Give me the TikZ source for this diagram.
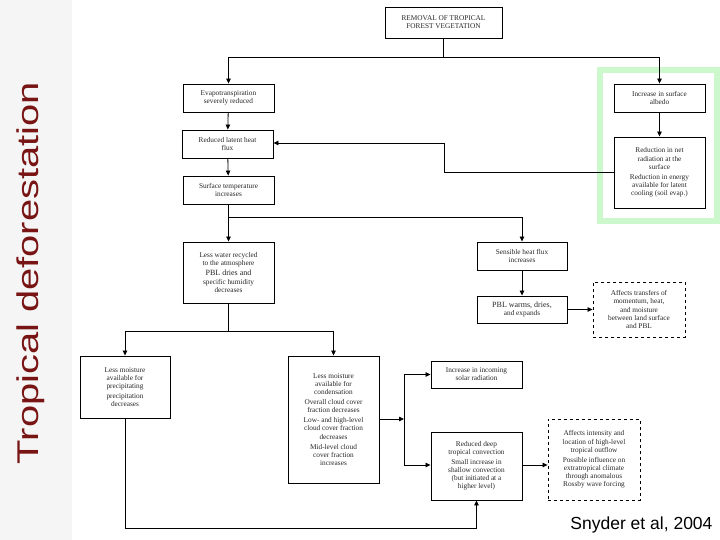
\documentclass[tikz,border=0pt]{standalone}
\usepackage{fontspec}
\setmainfont{Liberation Serif}
\newfontfamily\sansf{Liberation Sans}
\usetikzlibrary{arrows.meta}
\begin{document}
\begin{tikzpicture}[x=1pt,y=-1pt,
 box/.style={draw,line width=0.9pt,align=center,inner sep=1pt,font=\fontsize{7.3}{8.1}\selectfont,text=black!85},
 dbox/.style={box,dashed,line width=0.9pt},
 ar/.style={-{Triangle[length=5pt,width=4.5pt]},line width=0.8pt}]
\useasboundingbox (0,0) rectangle (720,540);
\fill[gray!8] (0,0) rectangle (72,540);
\node[rotate=90,font=\sansf\fontsize{30}{31}\selectfont,text={rgb,255:red,120;green,20;blue,20}] (title) at (31,273) {\scalebox{1.33}[1]{Tropical deforestation}};
\draw[line width=5.5pt,color={rgb,255:red,205;green,247;blue,205}] (600,70) rectangle (717,221);
\node[box,minimum width=117,minimum height=31] (top) at (443.5,22.5) {REMOVAL OF TROPICAL\\FOREST VEGETATION};
\node[box,minimum width=91,minimum height=28] (evap) at (228.5,98) {Evapotranspiration\\severely reduced};
\node[box,minimum width=91,minimum height=28] (alb) at (659.5,98) {Increase in surface\\albedo};
\node[box,minimum width=91,minimum height=28] (lat) at (227.5,144) {Reduced latent heat\\flux};
\node[box,minimum width=91,minimum height=71] (net) at (659.5,172.5) {Reduction in net\\radiation at the\\surface\\[2pt]Reduction in energy\\available for latent\\cooling (soil evap.)};
\node[box,minimum width=91,minimum height=28] (surf) at (228.5,190) {Surface temperature\\increases};
\node[box,minimum width=91,minimum height=61] (water) at (228.5,272.5) {Less water recycled\\to the atmosphere\\[2pt]{\fontsize{8}{9}\selectfont PBL dries and}\\specific humidity\\decreases};
\node[box,minimum width=90,minimum height=28] (sens) at (522,256) {Sensible heat flux\\increases};
\node[box,minimum width=90,minimum height=27] (pbl) at (522,309.5) {{\fontsize{8}{9}\selectfont PBL warms, dries,}\\and expands};
\node[dbox,minimum width=92,minimum height=55] (aff) at (639,309.5) {Affects transfers of\\momentum, heat,\\and moisture\\between land surface\\and PBL};
\node[box,minimum width=90,minimum height=62] (prec) at (125,387) {Less moisture\\available for\\precipitating\\[2pt]precipitation\\decreases};
\node[box,minimum width=91,minimum height=127] (cond) at (333.5,419.5) {Less moisture\\available for\\condensation\\[2pt]Overall cloud cover\\fraction decreases\\[2pt]Low- and high-level\\cloud cover fraction\\decreases\\[2pt]Mid-level cloud\\cover fraction\\increases};
\node[box,minimum width=91,minimum height=27] (inc) at (476.5,374.5) {Increase in incoming\\solar radiation};
\node[box,minimum width=91,minimum height=68] (deep) at (476.5,466) {Reduced deep\\tropical convection\\[2pt]Small increase in\\shallow convection\\(but initiated at a\\higher level)};
\node[dbox,minimum width=92,minimum height=81] (aff2) at (594,459.5) {Affects intensity and\\location of high-level\\tropical outflow\\[2pt]Possible influence on\\extratropical climate\\through anomalous\\Rossby wave forcing};
\node[font=\sansf\fontsize{17.5}{18}\selectfont,anchor=east] (cite) at (716,525) {Snyder et al, 2004};
\coordinate (s1) at (443.5,57);
\draw[ar] (top) -- (s1) -| (evap);
\draw[ar] (s1) -| (alb);
\draw[ar] (evap) -- (lat);
\draw[ar] (alb) -- (net);
\draw[ar] (net.west|-0,172) -| (444,143) -- (lat.east|-0,143);
\draw[ar] (lat) -- (surf);
\coordinate (s2) at (228.5,217);
\draw[ar] (surf) -- (s2) -- (water);
\draw[ar] (s2) -| (sens);
\draw[ar] (sens) -- (pbl);
\draw[ar] (pbl) -- (aff);
\coordinate (s3) at (228.5,331);
\draw[ar] (water) -- (s3) -| (prec);
\draw[ar] (s3) -| (cond);
\coordinate (s4) at (404,419);
\draw[ar] (cond.east|-s4) -- (s4);
\draw[ar] (404,419) |- (inc);
\draw[ar] (404,419) |- (deep.west|-0,465);
\draw[ar] (deep.east|-0,465) -- (aff2.west|-0,465);
\draw[ar] (prec.south) |- (476.5,528) -- (deep.south);
\end{tikzpicture}
\end{document}
